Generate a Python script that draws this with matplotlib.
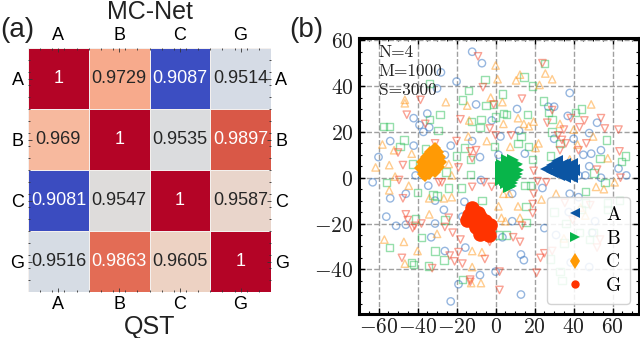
import numpy as np
import matplotlib
matplotlib.use("Agg")
import matplotlib.pyplot as plt
from matplotlib.lines import Line2D
from matplotlib.ticker import AutoMinorLocator, FixedLocator

plt.rcParams['font.family'] = ['Liberation Sans', 'DejaVu Sans']
plt.rcParams['mathtext.fontset'] = 'cm'

labels = ['A', 'B', 'C', 'G']
fidelity = [[1, 0.9729, 0.9087, 0.9514],
            [0.969, 1, 0.9535, 0.9897],
            [0.9081, 0.9547, 1, 0.9587],
            [0.9516, 0.9863, 0.9605, 1]]
fidelity_text = [['1', '0.9729', '0.9087', '0.9514'],
                 ['0.969', '1', '0.9535', '0.9897'],
                 ['0.9081', '0.9547', '1', '0.9587'],
                 ['0.9516', '0.9863', '0.9605', '1']]

# open markers in panel (b)
circle_x = [-12, -7, -28, -20, -30, -10, -35, -42, -39, -34, -37, -2, 11, 38, 27, 30, 37, 52, 48, 40, 30, 12, 2.5, -12,
            -42, -54, -60, -23, -26, -8, 1.5, 15, 45, 49, 54, 48, 63, -63, -54, -46, -41, -34.5, -31, -16, -7.5, -26.5,
            -56, -51, -46, -31, -33, -17, -15.5, -26, -8, -19, -23, 0, 3.5, 8.5, 8.5, 24, 25, 13, 14.5, 13, 38, 42.5,
            37.5, 51, 31, 49.5, 38.5, 48, 54, 67, 46, 42.5]
circle_y = [55, 50, 46, 42, 39, 32, 28, 26, 23, 22, 20, 25, 30, 37, 31, 31, 27, 24, 19.5, 17, 17, 20.5, 18, 16,
            14, 16, 9, 14, 10, 9, 10, 10.5, 10, 10.5, 12, 5, 4, -2, -9, -7, 1, -3.5, -10, -10.5, -1, -14,
            -17, -21, -20.5, -20, -26, -17, -30.5, -32, -42.5, -46.5, -54, -41, -26, -7, -19, -4.5, -22, -33.5, -36, -51, -7, -8.5,
            -15, -19, -25, -24, -37, -39, 0, 1, 1, 1]
square_x = [-57.5, -54.5, -47, -49, -36, -34, -28.5, -29.5, -34, -5.5, -14, -17, -5, -1, 3.5, 14.5, 19, 24.5, 41, 44, 27, 29,
            16.5, 4, 5.5, 0, -7.5, -8, -12.5, 29, 13, 11.5, 17, -16, -0.5, -20, -13, 19, 28, 57, 66.5, 64.5, 53.5, -42.5, 33, 25,
            -56, -40, -32, -30, -24, -17.5, -7, -25.5, -13, 15, 18, 15.5, 15.5, -26, -41, -38, -31, -26.5, -54.5, -43, -42, -34.5,
            -17, 1.5, 5.5, 46, 50.5, 56, 30, 36, 43, 50, 48, 35, 28, 33, 34, 46, 44, 57.5, 63.5, 57.5]
square_y = [22.5, 22.5, 16.5, 13.5, 12.5, 25.5, 27.5, 20.5, 41, 43, 38, 34, 31.5, 32, 36.5, 44, 40, 33.5, 28.5, 30, 28.5, 25.5,
            27.5, 28, 27.5, 26.5, 25.5, 22, 24.5, 20, 18, 15, 13.5, 13, 13.5, 9.5, 8, 8, 9.5, 16.5, 9.5, 7, 8.5, 6, 15, 50,
            -2, -6.5, -7.5, -8, -4.5, -4.5, -10, 2.5, 1.5, -3.5, -3.5, -12.5, -19.5, -18.5, -18, -26, -32, -36, -30.5, -37, -38, -38.5,
            -44.5, -25, -25, -6, 2, -2, -15, -20, -24, -24, -27, -28.5, -35.5, -41, -45, -11, -14, -11, -10, -14]
up_x = [0, 1, 12.5, 10.5, 25.5, 29, 22.5, -46.5, -46.5, -25.5, -14.5, -2.5, 3.5, 49, -13.5, 11.5, 4, 14.5, 17, 19.5, 33, 40,
        50, -58, -52, -43, -54.5, -61.5, -24, -14, -4.5, 7.5, 20.5, 22, 42, 57.5, 38,
        -57, -54.5, -51.5, -44.5, -47, -40, -46.5, -34, -34, -30, -26.5, -22.5, -22.5, 1.5, 4, 7, 3, 5, 11.5, 12.5, 23.5, 31,
        -12, -7, -12, -12.5, -7.5, 51.5, 55.5, 61, 35, 46, 43.5]
up_y = [49, 43, 45, 42.5, 45.5, 43, 40.5, 34, 32.5, 33, 31.5, 35, 33, 32, 25, 26, 23.5, 23.5, 22.5, 24.5, 23.5, 21,
        18, 14.5, 12, 10.5, 5.5, 4.5, 6, 18, 16, 13.5, 13, 15, 14.5, 8.5, 8,
        -27, -5.5, 0.5, -3.5, -28, -32, -37.5, -9, -16, -24.5, -9, -8.5, 1, -12.5, -7, -7, -17.5, -19, -12.5, -17.5, -9.5, -7,
        -32, -32.5, -39, -46, -46, -4, -5, -2, -26.5, -16.5, -13]
down_x = [-9, 24, -6.5, -38.5, 13.5, -45.5, -36, -18, -1, 29, 38.5, 45.5, 54, 56, 63, -3, 0, 8, 26.5, 35, 43, 32, 34, 36, 46.5,
          33, 42.5, 63.5, -20, -31, -50, -47.5, -10, -13, -12, -19, 19.5, 52,
          -49.5, -47.5, -46, -45, -41.5, -38, -42.5, -29, -27.5, -12, -6, -2, -24, -26, -22, -18, -3, 9, 12.5, 13.5, 19, 19, 19.5,
          21.5, 26, -19, -23.5, -21, -17, -5.5, -32.5, -48, -13, -13, 2, 2, 21, 23, 25, 29, 53.5, 52, 48.5, 35.5, 39.5, 64]
down_y = [53, 50, 39.5, 34, 34.5, 27.5, 23.5, 25.5, 32, 29.5, 26, 25, 26, 21.5, 21, 21.5, 18.5, 18.5, 24, 21, 22, 18.5, 16.5, 15, 15,
          12, 12, 11.5, 16, 15, 11, 5.5, 12, 11.5, 8.5, 4.5, 3, 3.5,
          -1, -9, -16, -18.5, -21, -20, -22, -2, -2, -4, -2, -4, -17.5, -21.5, -24, -27, -28, -26, -28, -21, -15.5, -11.5, -7,
          -1.5, -2, -32.5, -34, -36.5, -37.5, -35.5, -39.5, -35, -44.5, -45.5, -49, -41, -41.5, -35, -33, -32, -27, -30.5, -12, -11, -18.5, 0]

# solid clusters in panel (b)
blue_x = [26, 28.9, 28.9, 31.5, 32.3, 32.3, 35.8, 35.8, 35.8, 39.2, 39.2, 39.2, 40, 30.5, 34, 34, 37.5, 37.5, 30.5]
blue_y = [4, 5.5, 2.5, 7.2, 4.7, 1.4, 6.2, 3.3, 0.4, 6.2, 3.3, 0.4, 3.3, 3.5, 5.5, 2, 5, 2, 6]
green_x = [6, 9, 3.4, 6.8, 10.5, 3.5, 6.8, 10.5, 11.5, 3.4, 6.8, 10.5, 5.1, 8.5, 6.8, 5, 9, 5, 9, 5, 9, 7, 7, 7, 2.8, 2.8,
           3, 8, 11, 11]
green_y = [7.6, 7.6, 5.5, 5.5, 5.5, 2.8, 2.8, 2.8, 3.3, 0.4, 0.4, 0.4, -2.5, -2.5, -4, 4, 4, 1.5, 1.5, -1, -1, 6.5, 1, -1.5, 4.5, 1.5,
           -1, -3.5, 6, 1.5]
orange_x = [-31.3, -33.5, -29.5, -35.7, -31.8, -28.5, -37.8, -34.3, -30.9, -28.2, -38.6, -35.7, -32.3, -29.2, -37.4, -34.3,
            -31.3, -36]
orange_y = [13, 11.3, 11.3, 9, 9, 9, 6.9, 6.9, 6.9, 6.9, 4.3, 4.3, 4.3, 4.7, 1.8, 1.8, 2.3, 0.8]
red_x = [-12.1, -13.8, -10.4, -14.7, -11.3, -7.8, -5.3, -2.7, -7.8, -4.4, -7.8, -3.6, -10, -9, -6]
red_y = [-13.2, -16.4, -16.4, -18.6, -19.3, -17.1, -19, -20.7, -21.5, -23, -24.4, -24.8, -21.5, -15.5, -21.5]

blue = '#0b55a3'
green = '#08b54a'
orange = '#ff9a05'
red = '#ff3300'

W, H = 640, 338
fig = plt.figure(figsize=(W / 100, H / 100), dpi=100)

# panel (a)
ax = fig.add_axes([28 / W, 1 - 292 / H, 243 / W, 244 / H])
ax.pcolormesh(np.array(fidelity), cmap='coolwarm', edgecolors='#f4f0ee', linewidth=0.4)
ax.invert_yaxis()
for i in range(4):
    for j in range(4):
        val = fidelity[i][j]
        col = 'white' if val > 0.98 or val < 0.92 else '#262626'
        ax.text(j + 0.5, i + 0.5, fidelity_text[i][j], ha='center', va='center', color=col, fontsize=13)

pos = [0.5, 1.5, 2.5, 3.5]
ax.set_xticks(pos)
ax.set_xticklabels(labels)
ax.set_yticks(pos)
ax.set_yticklabels(labels)
ax.xaxis.set_minor_locator(FixedLocator(np.arange(0.2, 4, 0.2)))
ax.yaxis.set_minor_locator(FixedLocator(np.arange(0.2, 4, 0.2)))
ax.tick_params(axis='both', which='major', direction='in', length=3, width=0.6, color='#333333', labelsize=13,
               top=True, right=True, labeltop=True, labelright=True, pad=3)
ax.tick_params(axis='both', which='minor', direction='in', length=1.5, width=0.6, color='#333333',
               top=True, right=True)
for s in ax.spines.values():
    s.set_visible(False)

fig.text(150 / W, 1 - 12 / H, 'MC-Net', ha='center', va='center', fontsize=18, color='#222222')
fig.text(150 / W, 1 - 327 / H, 'QST', ha='center', va='center', fontsize=18, color='#222222')
fig.text(17 / W, 1 - 30 / H, '(a)', ha='center', va='center', fontsize=20, color='#222222')
fig.text(306 / W, 1 - 30 / H, '(b)', ha='center', va='center', fontsize=20, color='#222222')

# panel (b)
bx = fig.add_axes([359 / W, 1 - 314 / H, 280 / W, 276 / H])
open_style = dict(s=28, facecolors='none', linewidths=1.0, alpha=0.5)
bx.scatter(circle_x, circle_y, marker='o', edgecolors='#2f6fc0', **open_style)
bx.scatter(square_x, square_y, marker='s', edgecolors='#2fc05a', **open_style)
bx.scatter(up_x, up_y, marker='^', edgecolors='#ff9a1f', **open_style)
bx.scatter(down_x, down_y, marker='v', edgecolors='#f5452a', **open_style)

bx.plot(blue_x, blue_y, ls='none', marker='<', ms=9, color=blue, mew=0)
bx.plot(green_x, green_y, ls='none', marker='>', ms=9, color=green, mew=0)
bx.plot(orange_x, orange_y, ls='none', marker='D', ms=6, color=orange, mew=0)
bx.plot(red_x, red_y, ls='none', marker='o', ms=10.5, color=red, mew=0)

bx.set_xlim(-70, 73.5)
bx.set_ylim(-59.5, 61)
bx.set_xticks([-60, -40, -20, 0, 20, 40, 60])
bx.set_yticks([-40, -20, 0, 20, 40, 60])
bx.set_xticklabels(['$-60$', '$-40$', '$-20$', '$0$', '$20$', '$40$', '$60$'])
bx.set_yticklabels(['$-40$', '$-20$', '$0$', '$20$', '$40$', '$60$'])
bx.xaxis.set_minor_locator(AutoMinorLocator(4))
bx.yaxis.set_minor_locator(AutoMinorLocator(4))
bx.tick_params(axis='both', which='major', direction='in', length=4, width=1, labelsize=15.5, top=True, right=True,
               labelcolor='#222222')
bx.tick_params(axis='x', which='major', pad=2.5)
bx.tick_params(axis='y', which='major', pad=4)
bx.tick_params(axis='both', which='minor', direction='in', length=2, width=0.8, top=True, right=True)
bx.grid(True, which='major', ls='--', color='#a0a0a0', lw=1.0)
bx.set_axisbelow(True)
for s in bx.spines.values():
    s.set_linewidth(2.2)

bx.text(-60, 54.8, 'N=4', family='cmr10', fontsize=12.5, va='center', color='#222222')
bx.text(-60, 46.5, 'M=1000', family='cmr10', fontsize=12.5, va='center', color='#222222')
bx.text(-60, 38.2, 'S=3000', family='cmr10', fontsize=12.5, va='center', color='#222222')

handles = [Line2D([], [], ls='none', marker='<', ms=7, color=blue, mew=0),
           Line2D([], [], ls='none', marker='>', ms=7, color=green, mew=0),
           Line2D([], [], ls='none', marker='d', ms=8, color=orange, mew=0),
           Line2D([], [], ls='none', marker='o', ms=6, color=red, mew=0)]
bx.legend(handles, labels, loc='lower left', bbox_to_anchor=((547 - 359) / 280, (314 - 304) / 276),
          prop={'family': 'cmr10', 'size': 14}, numpoints=1, framealpha=0.85, labelspacing=0.3,
          handletextpad=0.6, borderpad=0.45, borderaxespad=0, edgecolor='#cccccc')

fig.savefig('out.png', dpi=100)
